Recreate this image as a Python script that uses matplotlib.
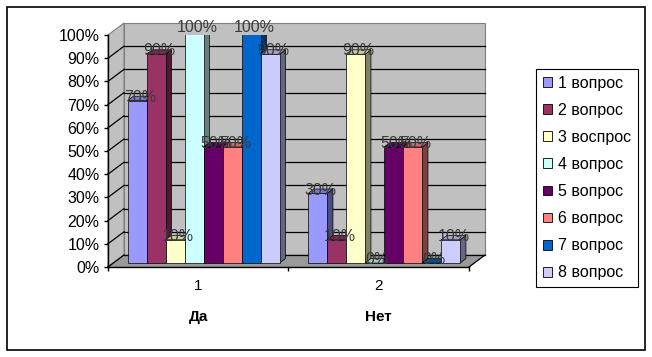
import matplotlib
matplotlib.use("Agg")
import matplotlib.pyplot as plt
from matplotlib.patches import Polygon, Rectangle, Patch
from matplotlib.ticker import PercentFormatter
from matplotlib.colors import to_rgb
import numpy as np

plt.rcParams["font.family"] = ["Liberation Sans", "DejaVu Sans"]

# =========== Data ============

CATEGORIES = ["Да", "Нет"]
CAT_TICKS = ["1", "2"]
SERIES = ["1 вопрос", "2 вопрос", "3 воспрос", "4 вопрос",
          "5 вопрос", "6 вопрос", "7 вопрос", "8 вопрос"]
VALUES_DA = [0.70, 0.90, 0.10, 1.00, 0.50, 0.50, 1.00, 0.90]
VALUES_NET = [0.30, 0.10, 0.90, 0.00, 0.50, 0.50, 0.00, 0.10]
COLORS = ["#9999FF", "#993366", "#FFFFCC", "#CCFFFF",
          "#660066", "#FF8080", "#0066CC", "#CCCCFF"]

# =========== Geometry (pseudo 3D) ============

PX_X = 180.5          # pixels per category unit
PX_Y = 232.0          # pixels per 100%
DXW = 16 / PX_X       # wall depth offset
DYW = 12 / PX_Y
OX, OY = 0.33 * DXW, 0.33 * DYW      # bar front plane
DDX, DDY = 0.37 * DXW, 0.37 * DYW    # bar depth
BAR_W = 19 / PX_X
WALL = "#C0C0C0"
FLOOR = "#999999"


def shade(c, k):
    r, g, b = to_rgb(c)
    return (r * k, g * k, b * k)


fig = plt.figure(figsize=(6.52, 3.57), dpi=100)
ax = fig.add_axes([108 / 652, 90 / 357, 361 / 652, 232 / 357])
ax.set_xlim(0.5, 2.5)
ax.set_ylim(0, 1)
ax.set_facecolor("none")

x0, x1 = 0.5, 2.5

# walls and floor
back = Polygon([(x0 + DXW, DYW), (x1 + DXW, DYW), (x1 + DXW, 1 + DYW), (x0 + DXW, 1 + DYW)],
               closed=True, facecolor=WALL, edgecolor="#808080", lw=0.8, clip_on=False, zorder=0.1)
left = Polygon([(x0, 0), (x0 + DXW, DYW), (x0 + DXW, 1 + DYW), (x0, 1)],
               closed=True, facecolor=WALL, edgecolor="#808080", lw=0.8, clip_on=False, zorder=0.2)
floor = Polygon([(x0, 0), (x1, 0), (x1 + DXW, DYW), (x0 + DXW, DYW)],
                closed=True, facecolor=FLOOR, edgecolor="#808080", lw=0.5, clip_on=False, zorder=0.3)
for p in (back, left, floor):
    ax.add_patch(p)

ticks = np.round(np.arange(0, 1.01, 0.1), 2)
for t in ticks[:-1]:
    ax.plot([x0, x0 + DXW], [t, t + DYW], color="black", lw=0.9, clip_on=False, zorder=0.6)
    ax.plot([x0 + DXW, x1 + DXW], [t + DYW, t + DYW], color="black", lw=0.9, clip_on=False, zorder=0.6)
ax.plot([x1, x1 + DXW], [0, DYW], color="black", lw=0.9, clip_on=False, zorder=0.6)

# bars
z = 1
for ci, vals in enumerate([VALUES_DA, VALUES_NET]):
    cat = ci + 1
    xs = cat + OX + (np.arange(len(vals)) - 3.5) * BAR_W
    for i, (xc, v) in enumerate(zip(xs, vals)):
        c = COLORS[i]
        xl, xr = xc - BAR_W / 2, xc + BAR_W / 2
        yb, yt = OY, OY + v
        side = Polygon([(xr, yb), (xr + DDX, yb + DDY), (xr + DDX, yt + DDY), (xr, yt)],
                       closed=True, facecolor=shade(c, 0.5), edgecolor="black", lw=0.5, zorder=z)
        top = Polygon([(xl, yt), (xr, yt), (xr + DDX, yt + DDY), (xl + DDX, yt + DDY)],
                      closed=True, facecolor=shade(c, 0.8), edgecolor="black", lw=0.5, zorder=z)
        ax.add_patch(side)
        ax.add_patch(top)
        ax.bar(xc, v, width=BAR_W, bottom=OY, color=c, edgecolor="black", lw=0.5, zorder=z + 0.5)
        z += 1

# data labels on top
for ci, vals in enumerate([VALUES_DA, VALUES_NET]):
    cat = ci + 1
    xs = cat + OX + (np.arange(len(vals)) - 3.5) * BAR_W
    for xc, v in zip(xs, vals):
        ax.text(xc + DDX / 2, v + OY - 0.005, f"{v * 100:.0f}%", ha="center", va="baseline",
                fontsize=11.5, color="#3a3a3a", zorder=50, clip_on=False)

# axes
for s in ("top", "right"):
    ax.spines[s].set_visible(False)
for s in ("left", "bottom"):
    ax.spines[s].set_linewidth(1.0)
    ax.spines[s].set_zorder(40)

ax.set_yticks(ticks)
ax.yaxis.set_major_formatter(PercentFormatter(1.0, decimals=0))
ax.tick_params(axis="y", direction="out", length=3, width=1, labelsize=11.5, pad=3)

ax.set_xticks([0.5, 1.5, 2.5])
ax.set_xticklabels([])
ax.tick_params(axis="x", which="major", direction="out", length=3, width=1)
ax.set_xticks([1, 2], minor=True)
ax.set_xticklabels(CAT_TICKS, minor=True)
ax.tick_params(axis="x", which="minor", length=0, labelsize=11, pad=9)

for ci, name in enumerate(CATEGORIES):
    ax.text(ci + 1, -0.215, name, ha="center", va="center", fontsize=11,
            fontweight="bold", clip_on=False)

# legend
handles = [Patch(facecolor=c, edgecolor="black", lw=0.6) for c in COLORS]
leg = fig.legend(handles, SERIES, loc="center", bbox_to_anchor=(587 / 652, 1 - 178 / 357),
                 frameon=True, fancybox=False, edgecolor="black", framealpha=1,
                 fontsize=11.5, handlelength=0.55, handleheight=0.55, handletextpad=0.4,
                 labelspacing=0.76, borderpad=0.4, borderaxespad=0)
leg.get_frame().set_linewidth(0.8)

# outer frame
fig.add_artist(Rectangle((7 / 652, 7 / 357), 638 / 652, 343 / 357, transform=fig.transFigure,
                         fill=False, edgecolor="black", lw=1.2))

fig.savefig("out.png", dpi=100)
